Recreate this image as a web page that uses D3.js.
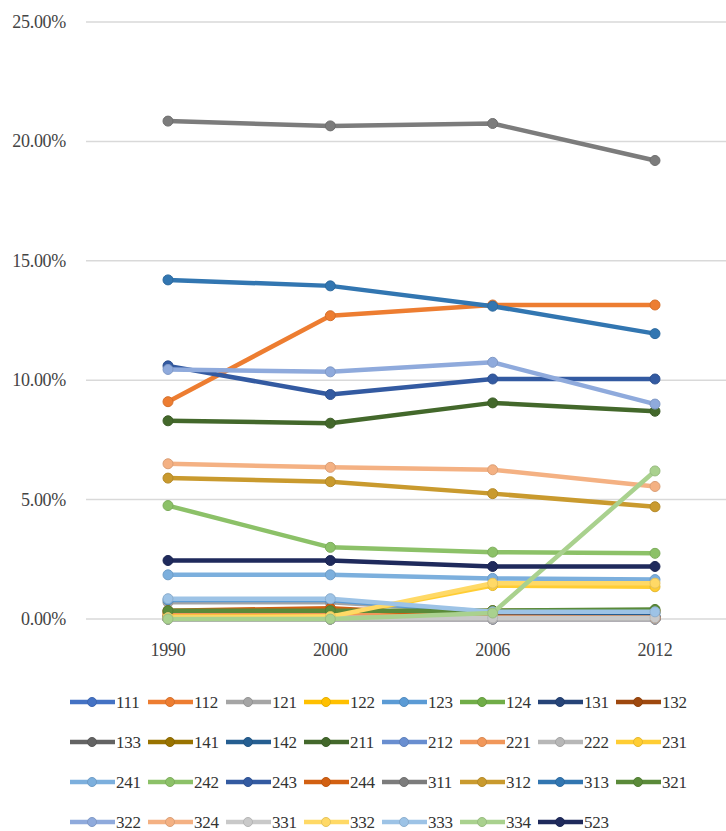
<!DOCTYPE html>
<html>
<head>
<meta charset="utf-8">
<script src="https://cdn.jsdelivr.net/npm/d3@7"></script>
<style>
  body { margin: 0; background: #fff; }
</style>
</head>
<body>
<div id="chart"></div>
<script>
(function() {
    const width = 726;
    const height = 831;
    const fontFamily = "'Liberation Serif', 'Times New Roman', serif";

    // Années (axe X)
    const years = ["1990", "2000", "2006", "2012"];

    // Codes CORINE (légende)
    const codes = ["111", "112", "121", "122", "123", "124", "131", "132",
                   "133", "141", "142", "211", "212", "221", "222", "231",
                   "241", "242", "243", "244", "311", "312", "313", "321",
                   "322", "324", "331", "332", "333", "334", "523"];

    // Parts (%) par code, dans l'ordre des années
    const shares = [
        [0.05, 0.05, 0.05, 0.05],   // 111
        [9.10, 12.70, 13.15, 13.15], // 112
        [0.70, 0.70, 0.30, 0.30],   // 121
        [0.20, 0.20, 0.25, 0.30],   // 122
        [0.80, 0.80, 0.25, 0.25],   // 123
        [0.05, 0.05, 0.05, 0.05],   // 124
        [0.10, 0.10, 0.10, 0.10],   // 131
        [0.00, 0.00, 0.00, 0.00],   // 132
        [0.00, 0.00, 0.00, 0.00],   // 133
        [0.30, 0.30, 0.35, 0.35],   // 141
        [0.10, 0.10, 0.10, 0.10],   // 142
        [8.30, 8.20, 9.05, 8.70],   // 211
        [0.00, 0.00, 0.00, 0.00],   // 212
        [0.20, 0.20, 0.05, 0.05],   // 221
        [0.00, 0.00, 0.00, 0.00],   // 222
        [0.10, 0.10, 1.40, 1.35],   // 231
        [1.85, 1.85, 1.70, 1.65],   // 241
        [4.75, 3.00, 2.80, 2.75],   // 242
        [10.60, 9.40, 10.05, 10.05], // 243
        [0.35, 0.45, 0.10, 0.05],   // 244
        [20.85, 20.65, 20.75, 19.20], // 311
        [5.90, 5.75, 5.25, 4.70],   // 312
        [14.20, 13.95, 13.10, 11.95], // 313
        [0.35, 0.35, 0.35, 0.40],   // 321
        [10.45, 10.35, 10.75, 9.00], // 322
        [6.50, 6.35, 6.25, 5.55],   // 324
        [0.05, 0.05, 0.05, 0.05],   // 331
        [0.05, 0.10, 1.50, 1.50],   // 332
        [0.85, 0.85, 0.30, 0.30],   // 333
        [0.00, 0.00, 0.25, 6.20],   // 334
        [2.45, 2.45, 2.20, 2.20]    // 523
    ];

    const yTicks = [0, 5, 10, 15, 20, 25];

    // Palette Excel
    const colors = ["#4472C4", "#ED7D31", "#A5A5A5", "#FFC000", "#5B9BD5", "#70AD47", "#264478", "#9E480E",
                    "#636363", "#997300", "#255E91", "#43682B", "#698ED0", "#F1975A", "#B7B7B7", "#FFCD33",
                    "#7CAFDD", "#8CC168", "#335AA1", "#D26012", "#7C7C7C", "#C99A2E", "#3276B1", "#5A8A39",
                    "#8FAADC", "#F4B183", "#C9C9C9", "#FFD966", "#9DC3E6", "#A9D18E", "#1F2A5C"];

    const svg = d3.select("#chart").append("svg")
        .attr("width", width).attr("height", height)
        .attr("font-family", fontFamily);

    const x = d3.scalePoint().domain(years).range([168, 655]);
    const y = d3.scaleLinear().domain([0, 25]).range([619, 22]);

    // Grille
    svg.append("g")
        .selectAll("line")
        .data(yTicks)
        .join("line")
        .attr("x1", 86).attr("x2", width)
        .attr("y1", d => y(d)).attr("y2", d => y(d))
        .attr("stroke", "#d9d9d9").attr("stroke-width", 1.5);

    // Axe Y
    svg.append("g")
        .selectAll("text")
        .data(yTicks)
        .join("text")
        .attr("x", 66).attr("y", d => y(d) + 6)
        .attr("text-anchor", "end")
        .attr("font-size", "18px")
        .attr("letter-spacing", "-0.3px")
        .attr("fill", "#444")
        .text(d => d3.format(".2f")(d) + "%");

    // Axe X
    svg.append("g")
        .selectAll("text")
        .data(years)
        .join("text")
        .attr("x", d => x(d)).attr("y", 656)
        .attr("text-anchor", "middle")
        .attr("font-size", "18px")
        .attr("letter-spacing", "-0.3px")
        .attr("fill", "#444")
        .text(d => d);

    const series = codes.map((c, i) => ({
        code: c,
        color: colors[i],
        values: years.map((yr, j) => ({ year: yr, val: shares[i][j] }))
    }));

    const lineGenerator = d3.line()
        .x(d => x(d.year))
        .y(d => y(d.val));

    const seriesG = svg.append("g")
        .selectAll("g")
        .data(series)
        .join("g");

    seriesG.append("path")
        .attr("d", d => lineGenerator(d.values))
        .attr("fill", "none")
        .attr("stroke", d => d.color)
        .attr("stroke-width", 4.5)
        .attr("stroke-linejoin", "round");

    seriesG.selectAll("circle")
        .data(d => d.values.map(v => ({ ...v, color: d.color })))
        .join("circle")
        .attr("cx", d => x(d.year))
        .attr("cy", d => y(d.val))
        .attr("r", 5)
        .attr("fill", d => d.color)
        .attr("stroke", d => d3.color(d.color).darker(0.3))
        .attr("stroke-width", 1);

    // Légende
    const perRow = 8;
    const legend = svg.append("g")
        .selectAll("g")
        .data(series)
        .join("g")
        .attr("transform", (d, i) => `translate(${70 + (i % perRow) * 78}, ${702 + Math.floor(i / perRow) * 40})`);

    legend.append("line")
        .attr("x1", 0).attr("x2", 45)
        .attr("stroke", d => d.color).attr("stroke-width", 4.5);
    legend.append("circle")
        .attr("cx", 22).attr("r", 4.5)
        .attr("fill", d => d.color)
        .attr("stroke", d => d3.color(d.color).darker(0.3));
    legend.append("text")
        .attr("x", 46).attr("y", 6)
        .attr("font-size", "17px")
        .attr("letter-spacing", "-0.3px")
        .attr("fill", "#333")
        .text(d => d.code);
})();
</script>
</body>
</html>
